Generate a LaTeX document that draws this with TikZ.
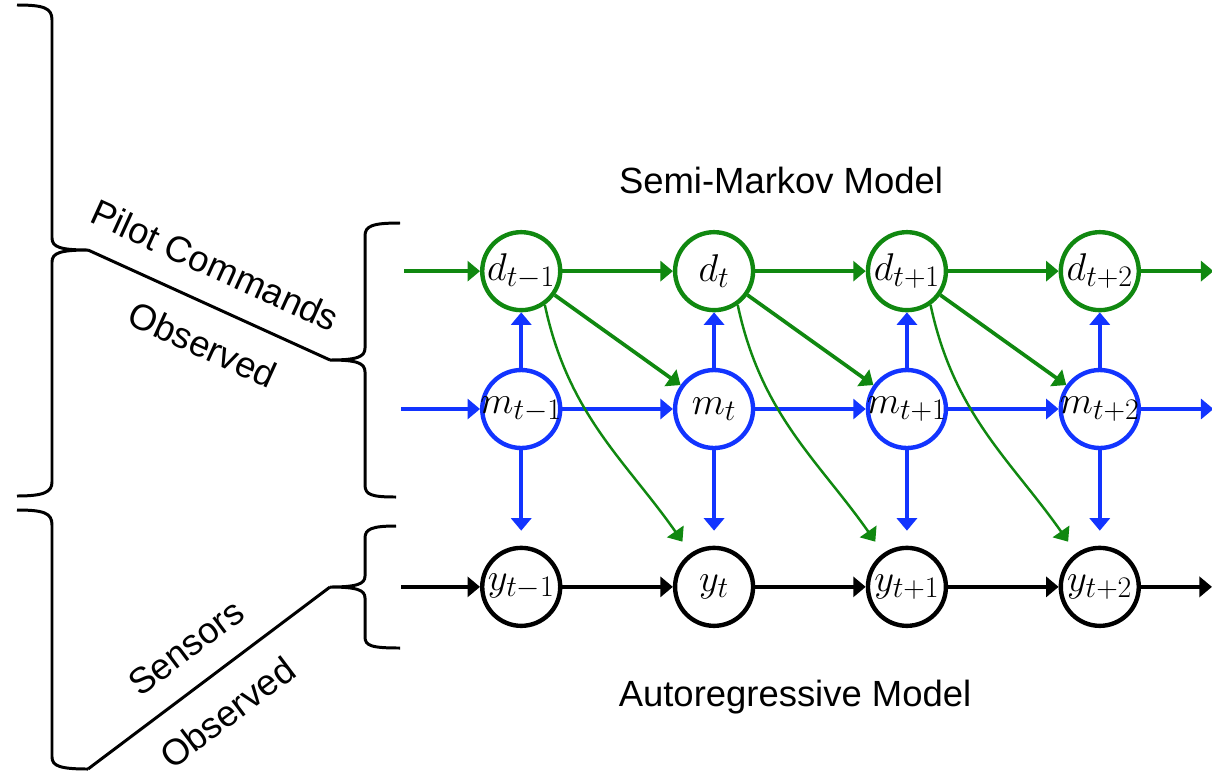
\RequirePackage{fix-cm}
\documentclass[tikz,border=0pt]{standalone}
\usepackage{amssymb, amsmath}
\usepackage{fontspec}
\newfontfamily\helv{Liberation Sans}
\DeclareMathSizes{22}{22}{17}{13}
\usetikzlibrary{matrix,positioning,arrows.meta}
\definecolor{dgreen}{RGB}{16,136,16}
\definecolor{mblue}{RGB}{18,52,255}

\begin{document}
\begin{tikzpicture}[x=0.02cm, y=0.02cm, >={Triangle[length=0.25cm,width=0.4cm]}]
      \tikzstyle{point} = [coordinate]
      \tikzstyle{state} = [circle, draw, line width=2.5pt, minimum size=1.56cm, inner sep=-6pt, font=\fontsize{22}{26}\selectfont]
      \tikzstyle{dnode} = [state, draw=dgreen]
      \tikzstyle{mnode} = [state, draw=mblue]
      \tikzstyle{ynode} = [state, draw=black]
      \tikzstyle{title} = [font=\helv\huge]
      \tikzstyle{brace} = [line width=1.7pt]
      \tikzstyle{garrow} = [->, draw=dgreen, line width=2.1pt]
      \tikzstyle{gcurve} = [->, draw=dgreen, line width=1.4pt, shorten >=0.28cm]
      \tikzstyle{barrow} = [->, draw=mblue, line width=2.3pt]
      \tikzstyle{karrow} = [->, line width=2.5pt]
      \useasboundingbox (0,0) rectangle (1212,-774);
      \matrix[row sep = 1.11cm, column sep = 2.21cm, nodes={anchor=center}] at (810.5,-429) {
        % duration row
        \node (d1) [dnode] {$d_{t-1}$};&
        \node (d2) [dnode] {$d_{t}$};&
        \node (d3) [dnode] {$d_{t+1}$};&
        \node (d4) [dnode] {$d_{t+2}$};\\
        % mode row
        \node (m1) [mnode] {$m_{t-1}$};&
        \node (m2) [mnode] {$m_{t}$};&
        \node (m3) [mnode] {$m_{t+1}$};&
        \node (m4) [mnode] {$m_{t+2}$};\\[0.8cm]
        % output row
        \node (y1) [ynode] {$y_{t-1}$};&
        \node (y2) [ynode] {$y_{t}$};&
        \node (y3) [ynode] {$y_{t+1}$};&
        \node (y4) [ynode] {$y_{t+2}$};\\
      };
      \node (din) [point, left=1.52cm of d1] {};
      \node (min) [point, left=1.58cm of m1] {};
      \node (yin) [point, left=1.58cm of y1] {};
      \node (dout) [point, right=1.45cm of d4] {};
      \node (mout) [point, right=1.45cm of m4] {};
      \node (yout) [point, right=1.42cm of y4] {};
      \node (semi) [title] at (781,-180) {Semi-Markov Model};
      \node (auto) [title] at (795,-697) {Autoregressive Model};
      % chains
      \draw [garrow] (din)--(d1);
      \draw [garrow] (d1)--(d2);
      \draw [garrow] (d2)--(d3);
      \draw [garrow] (d3)--(d4);
      \draw [garrow] (d4)--(dout);
      \draw [barrow] (min)--(m1);
      \draw [barrow] (m1)--(m2);
      \draw [barrow] (m2)--(m3);
      \draw [barrow] (m3)--(m4);
      \draw [barrow] (m4)--(mout);
      \draw [karrow] (yin)--(y1);
      \draw [karrow] (y1)--(y2);
      \draw [karrow] (y2)--(y3);
      \draw [karrow] (y3)--(y4);
      \draw [karrow] (y4)--(yout);
      % mode to duration and output
      \draw [barrow] (m1)--(d1);
      \draw [barrow] (m2)--(d2);
      \draw [barrow] (m3)--(d3);
      \draw [barrow] (m4)--(d4);
      \draw [barrow, shorten >=0.3cm] (m1)--(y1);
      \draw [barrow, shorten >=0.3cm] (m2)--(y2);
      \draw [barrow, shorten >=0.3cm] (m3)--(y3);
      \draw [barrow, shorten >=0.3cm] (m4)--(y4);
      % duration to next step
      \draw [garrow] (d1)--(m2);
      \draw [garrow] (d2)--(m3);
      \draw [garrow] (d3)--(m4);
      \draw [gcurve] (d1.-55) to[out=-78, in=125] (y2);
      \draw [gcurve] (d2.-55) to[out=-78, in=125] (y3);
      \draw [gcurve] (d3.-55) to[out=-78, in=125] (y4);
      % braces
      \coordinate (pc) at (88,-250);
      \coordinate (pcb) at (330,-360);
      \coordinate (sn) at (88,-769);
      \coordinate (snb) at (330,-587);
      \draw [brace] (17,-5) .. controls (44,-5) and (52,-8) .. (52,-20) -- (52,-238) .. controls (52,-247) and (60,-250) .. (pc) .. controls (60,-250) and (52,-253) .. (52,-262) -- (52,-482) .. controls (52,-492) and (44,-496) .. (17,-496);
      \draw [brace] (17,-510) .. controls (44,-510) and (52,-513) .. (52,-525) -- (52,-757) .. controls (52,-766) and (60,-769) .. (sn);
      \draw [brace] (400,-223) .. controls (372,-223) and (365,-226) .. (365,-236) -- (365,-348) .. controls (365,-357) and (357,-360) .. (pcb) .. controls (357,-360) and (365,-363) .. (365,-372) -- (365,-485) .. controls (365,-495) and (372,-497) .. (396,-497);
      \draw [brace] (396,-526) .. controls (372,-526) and (365,-529) .. (365,-538) -- (365,-576) .. controls (365,-584) and (357,-587) .. (snb) .. controls (357,-587) and (365,-590) .. (365,-598) -- (365,-637) .. controls (365,-646) and (372,-648) .. (400,-648);
      \draw [brace] (pc)-- node[title, sloped, above=0.36cm, pos=0.46]{Pilot Commands} node[title, sloped, below=0.36cm, pos=0.54]{Observed} (pcb);
      \draw [brace] (sn)-- node[title, sloped, above=0.36cm]{Sensors} node[title, sloped, below=0.36cm, pos=0.48]{Observed} (snb);
    \end{tikzpicture}
\end{document}
